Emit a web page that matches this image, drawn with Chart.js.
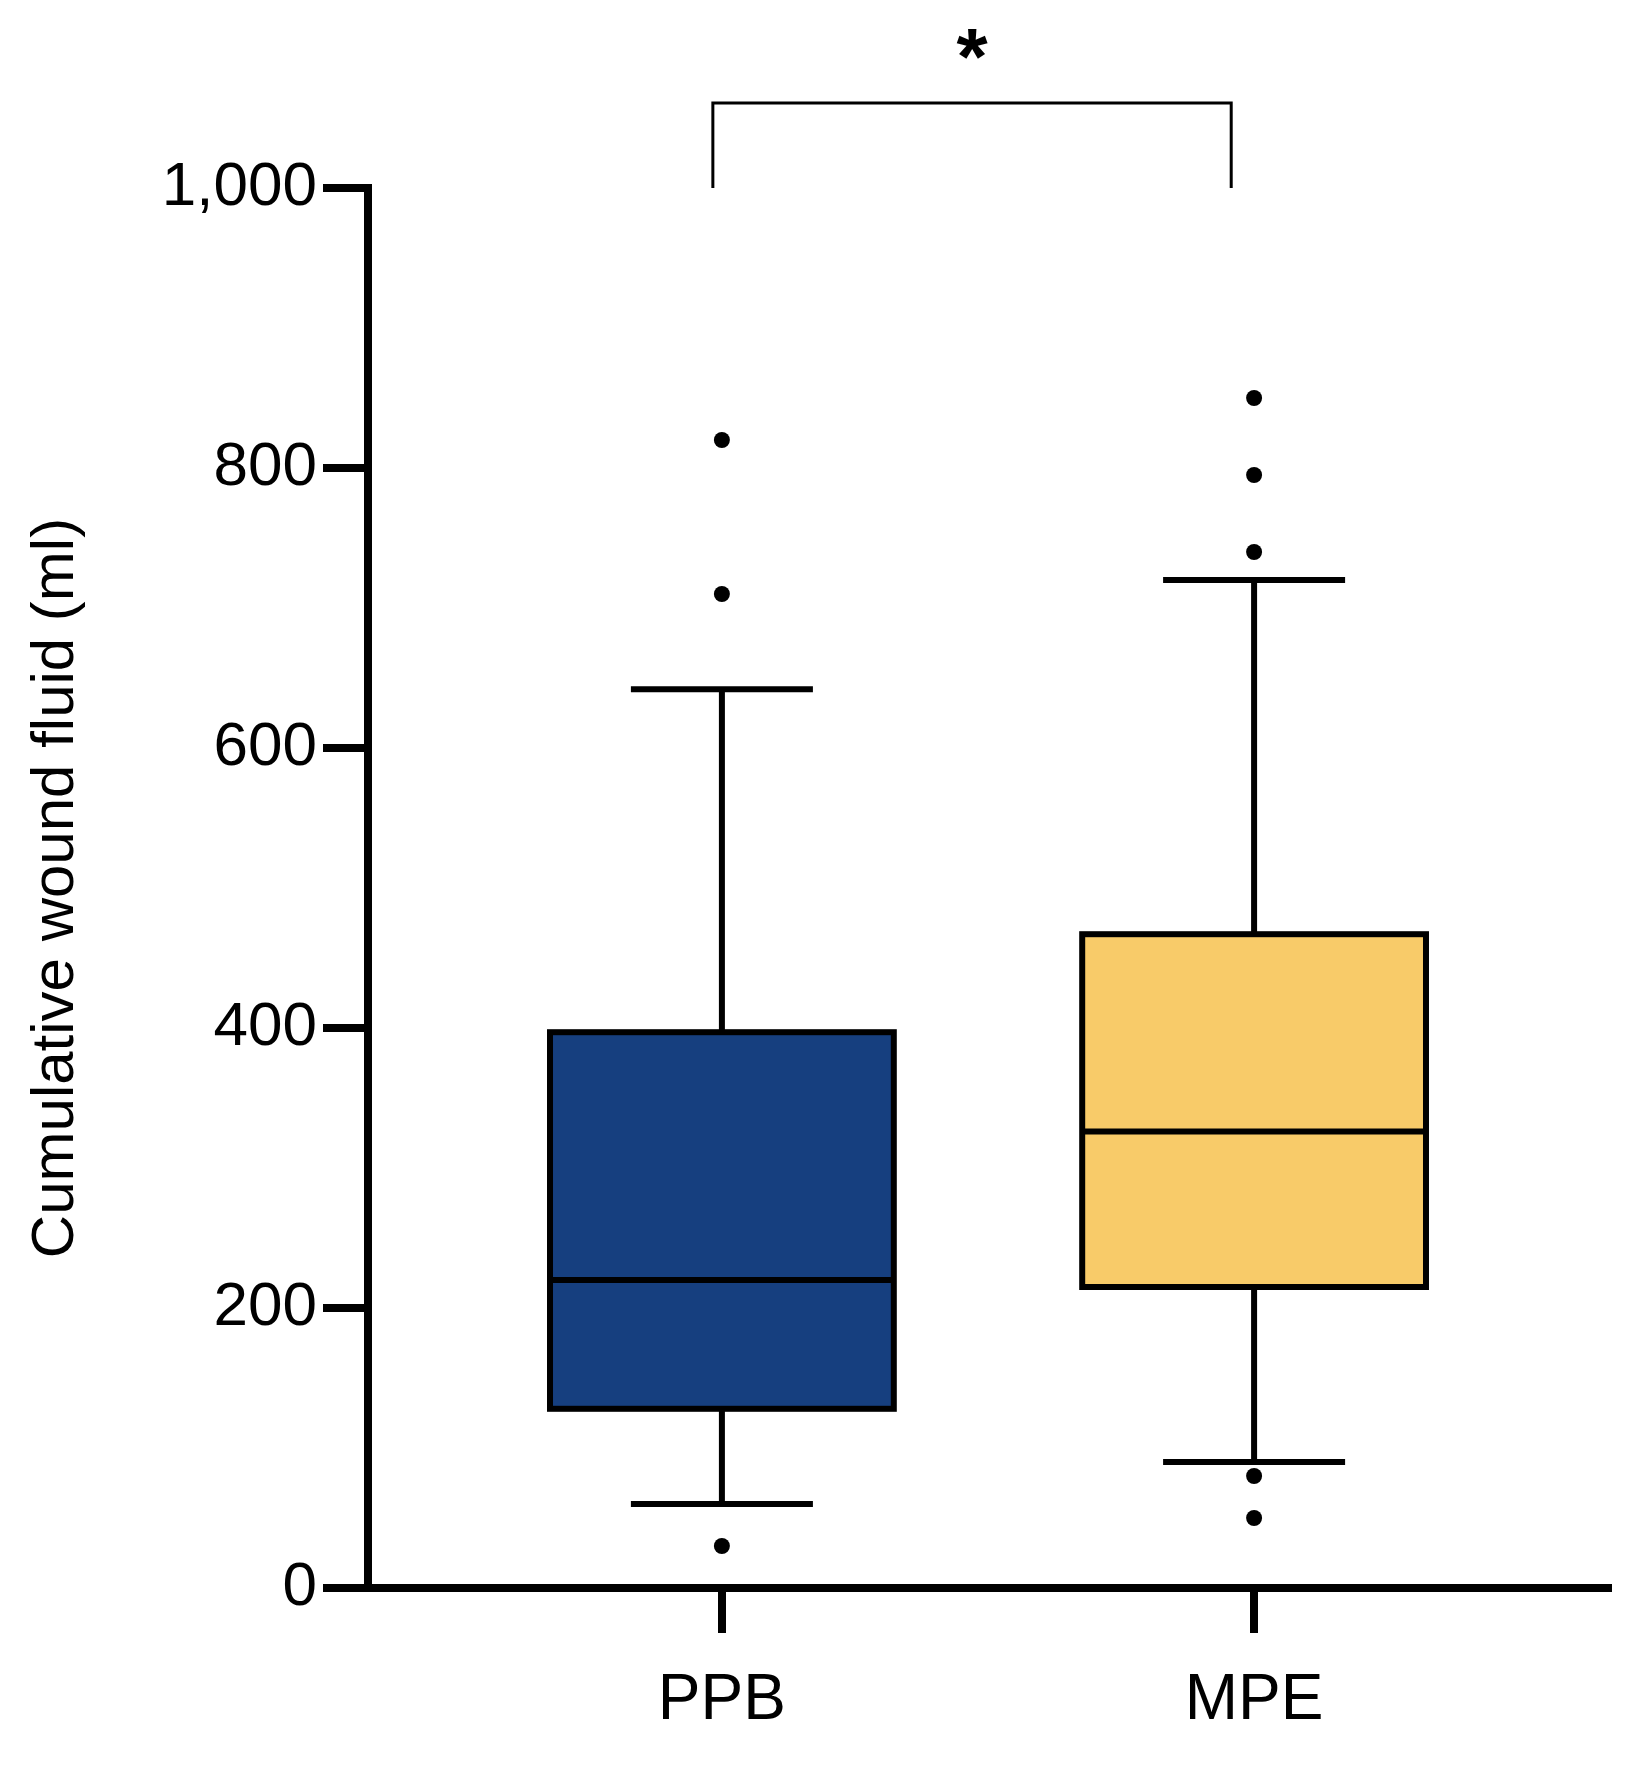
<!DOCTYPE html>
<html>
<head>
<meta charset="utf-8">
<script src="https://cdn.jsdelivr.net/npm/chart.js@4"></script>
<style>
  body { margin: 0; background: #fff; }
  #wrap { width: 1642px; height: 1792px; }
</style>
</head>
<body>
<div id="wrap"><canvas id="boxChart"></canvas></div>
<script>
// ==================== DATA ====================
const groups = ['PPB', 'MPE'];
const groupColors = ['#163f7f', '#f8cb69'];
const whiskerLow = [60, 90];
const q1 = [128, 215];
const medians = [220, 326];
const q3 = [397, 467];
const whiskerHigh = [642, 720];
const outliers = [[30, 710, 820], [50, 80, 740, 795, 850]];
const yTicks = [0, 200, 400, 600, 800, 1000];

const BOX_HALF = 0.323;
const CAP_HALF = 0.171;
const FONT = 'Liberation Sans, Arial, sans-serif';

// ==================== BOX PLOT PLUGIN ====================
const boxPlugin = {
    id: 'boxPlugin',
    beforeDatasetsDraw(chart) {
        const { ctx, scales: { x, y } } = chart;
        ctx.save();
        ctx.strokeStyle = '#000';
        ctx.lineWidth = 6;
        groups.forEach((g, i) => {
            const cx = x.getPixelForValue(i);
            const cap = x.getPixelForValue(i + CAP_HALF) - cx;
            const half = x.getPixelForValue(i + BOX_HALF) - cx;
            // whiskers
            ctx.beginPath();
            ctx.moveTo(cx, y.getPixelForValue(whiskerLow[i]));
            ctx.lineTo(cx, y.getPixelForValue(q1[i]));
            ctx.moveTo(cx, y.getPixelForValue(q3[i]));
            ctx.lineTo(cx, y.getPixelForValue(whiskerHigh[i]));
            ctx.moveTo(cx - cap, y.getPixelForValue(whiskerLow[i]));
            ctx.lineTo(cx + cap, y.getPixelForValue(whiskerLow[i]));
            ctx.moveTo(cx - cap, y.getPixelForValue(whiskerHigh[i]));
            ctx.lineTo(cx + cap, y.getPixelForValue(whiskerHigh[i]));
            ctx.stroke();
            // box
            const top = y.getPixelForValue(q3[i]);
            const bot = y.getPixelForValue(q1[i]);
            ctx.fillStyle = groupColors[i];
            ctx.fillRect(cx - half, top, half * 2, bot - top);
            ctx.strokeRect(cx - half, top, half * 2, bot - top);
            // median
            ctx.beginPath();
            ctx.moveTo(cx - half, y.getPixelForValue(medians[i]));
            ctx.lineTo(cx + half, y.getPixelForValue(medians[i]));
            ctx.stroke();
        });
        // significance bracket
        const x0 = x.getPixelForValue(-0.017);
        const x1 = x.getPixelForValue(0.957);
        const yb = y.getPixelForValue(1000);
        ctx.lineWidth = 3;
        ctx.beginPath();
        ctx.moveTo(x0, yb);
        ctx.lineTo(x0, 103);
        ctx.lineTo(x1, 103);
        ctx.lineTo(x1, yb);
        ctx.stroke();
        ctx.fillStyle = '#000';
        ctx.font = 'bold 80px ' + FONT;
        ctx.textAlign = 'center';
        ctx.textBaseline = 'middle';
        ctx.fillText('*', (x0 + x1) / 2, 62);
        ctx.restore();
    }
};

// ==================== CHART ====================
const outlierPoints = [];
outliers.forEach((arr, i) => arr.forEach(v => outlierPoints.push({ x: i, y: v })));

new Chart(document.getElementById('boxChart'), {
    type: 'scatter',
    data: {
        datasets: [{
            data: outlierPoints,
            backgroundColor: '#000',
            borderWidth: 0,
            pointRadius: 8
        }]
    },
    options: {
        responsive: true,
        maintainAspectRatio: false,
        animation: false,
        layout: { padding: { top: 188, right: 34, left: 0, bottom: 0 } },
        plugins: { legend: { display: false }, tooltip: { enabled: false } },
        scales: {
            x: {
                type: 'linear',
                min: -0.665,
                max: 1.665,
                afterBuildTicks: s => { s.ticks = groups.map((g, i) => ({ value: i })); },
                afterFit: s => { s.height = 204; },
                border: { color: '#000', width: 8 },
                grid: { drawOnChartArea: false, color: '#000', lineWidth: 8, tickLength: 45 },
                ticks: {
                    color: '#000',
                    font: { size: 64, family: FONT },
                    padding: 30,
                    callback: v => groups[v]
                }
            },
            y: {
                min: 0,
                max: 1000,
                afterBuildTicks: s => { s.ticks = yTicks.map(v => ({ value: v })); },
                afterFit: s => { s.width = 368; },
                border: { color: '#000', width: 8 },
                grid: { drawOnChartArea: false, color: '#000', lineWidth: 8, tickLength: 45 },
                ticks: { color: '#000', font: { size: 62, family: FONT }, padding: 6 },
                title: {
                    display: true,
                    text: 'Cumulative wound fluid (ml)',
                    color: '#000',
                    font: { size: 60, family: FONT },
                    padding: { top: 20, bottom: 40 }
                }
            }
        }
    },
    plugins: [boxPlugin]
});
</script>
</body>
</html>
